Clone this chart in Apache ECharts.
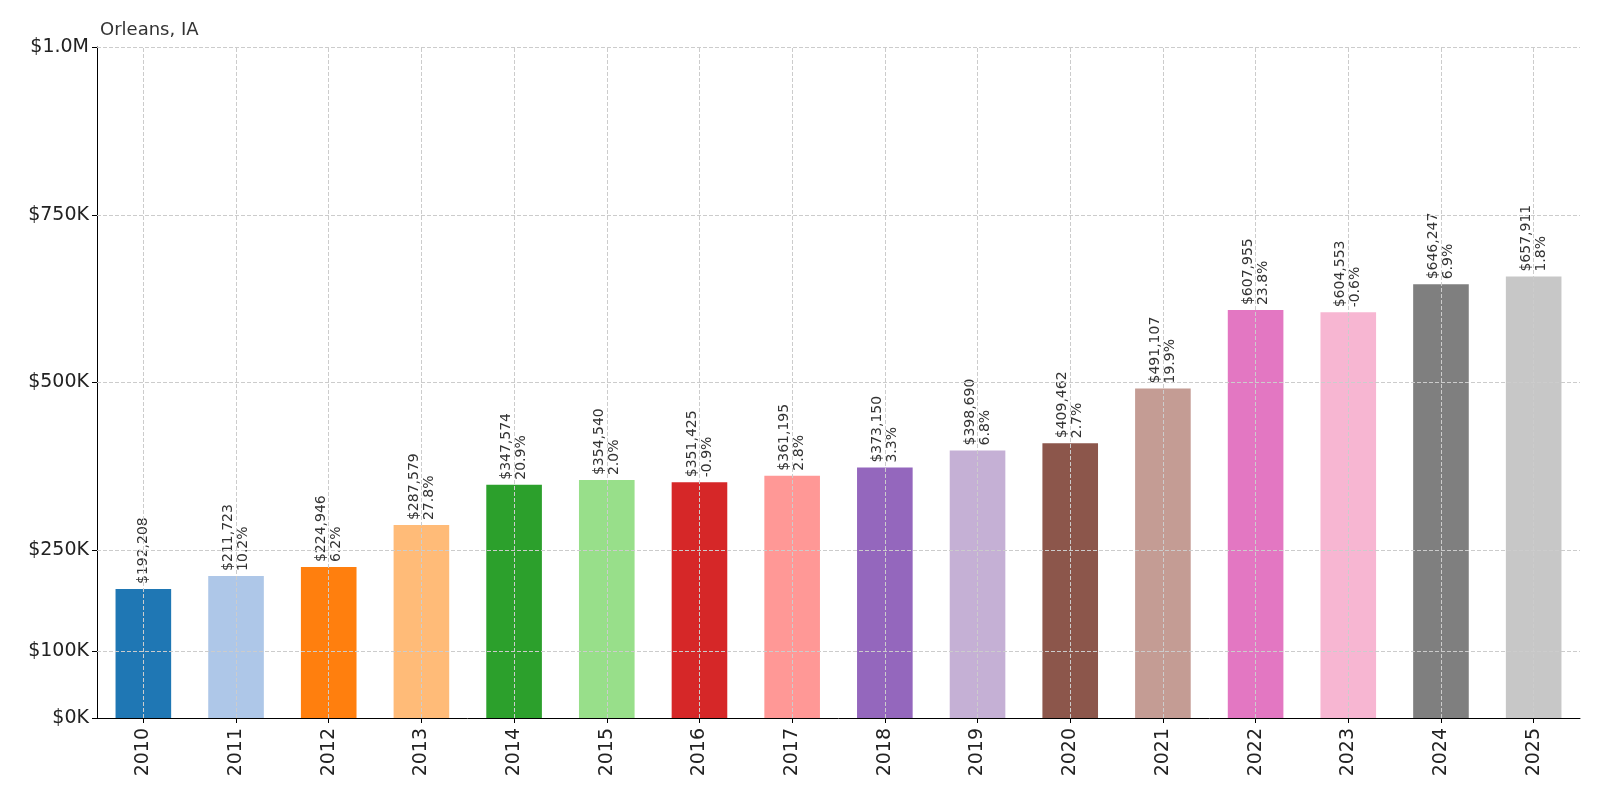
<!DOCTYPE html>
<html><head><meta charset="utf-8">
<script src="https://cdn.jsdelivr.net/npm/echarts@6/dist/echarts.min.js"></script>
<style>html,body{margin:0;padding:0;background:#fff;overflow:hidden}#c{width:100vw;height:100vh}</style>
</head><body><div id="c"></div>
<script>
const years = ['2010','2011','2012','2013','2014','2015','2016','2017','2018','2019','2020','2021','2022','2023','2024','2025'];
const values = [192208,211723,224946,287579,347574,354540,351425,361195,373150,398690,409462,491107,607955,604553,646247,657911];
const changes = [null,'10.2%','6.2%','27.8%','20.9%','2.0%','-0.9%','2.8%','3.3%','6.8%','2.7%','19.9%','23.8%','-0.6%','6.9%','1.8%'];
const tickValues = [0,100000,250000,500000,750000,1000000];
const tickLabels = ['$0K','$100K','$250K','$500K','$750K','$1.0M'];
const colors = ['#1f77b4','#aec7e8','#ff7f0e','#ffbb78','#2ca02c','#98df8a','#d62728','#ff9896','#9467bd','#c5b0d5','#8c564b','#c49c94','#e377c2','#f7b6d2','#7f7f7f','#c7c7c7'];
const fmt = v => '$' + v.toLocaleString('en-US');
const chart = echarts.init(document.getElementById('c'));
chart.setOption({
  animation:false,
  title:{text:'Orleans, IA',left:95,top:16,textStyle:{fontSize:18,fontWeight:'normal',color:'#333',fontFamily:'DejaVu Sans'}},
  grid:{left:97,right:20,top:47,bottom:82},
  xAxis:{type:'category',data:years,
    axisLine:{lineStyle:{color:'#000'}},axisTick:{show:true,alignWithLabel:true,lineStyle:{color:'#000'}},
    axisLabel:{rotate:90,fontSize:19,color:'#222',fontFamily:'DejaVu Sans',margin:10},
    splitLine:{show:false}},
  yAxis:{type:'value',min:0,max:1000000,
    axisLine:{show:true,lineStyle:{color:'#000'}},
    axisTick:{show:true,customValues:tickValues,lineStyle:{color:'#000'}},
    axisLabel:{customValues:tickValues,fontSize:19,color:'#222',fontFamily:'DejaVu Sans',
      formatter:v=>tickLabels[tickValues.indexOf(v)]},
    splitLine:{show:false}},
  series:[{type:'bar',barWidth:'60%',
    data:values.map((v,i)=>({value:v,itemStyle:{color:colors[i]}})),
    label:{show:true,position:'top',rotate:90,align:'left',verticalAlign:'middle',distance:5,
      fontSize:14,color:'#333',fontFamily:'DejaVu Sans',lineHeight:15,
      formatter:p=>changes[p.dataIndex]?fmt(p.value)+'\n'+changes[p.dataIndex]:fmt(p.value)},
    markLine:{silent:true,symbol:'none',label:{show:false},
      lineStyle:{type:'dashed',color:'#ccc',width:1},
      data:tickValues.slice(1).map(v=>({yAxis:v})).concat(years.map(y=>({xAxis:y})))}
  }]
});
</script></body></html>
